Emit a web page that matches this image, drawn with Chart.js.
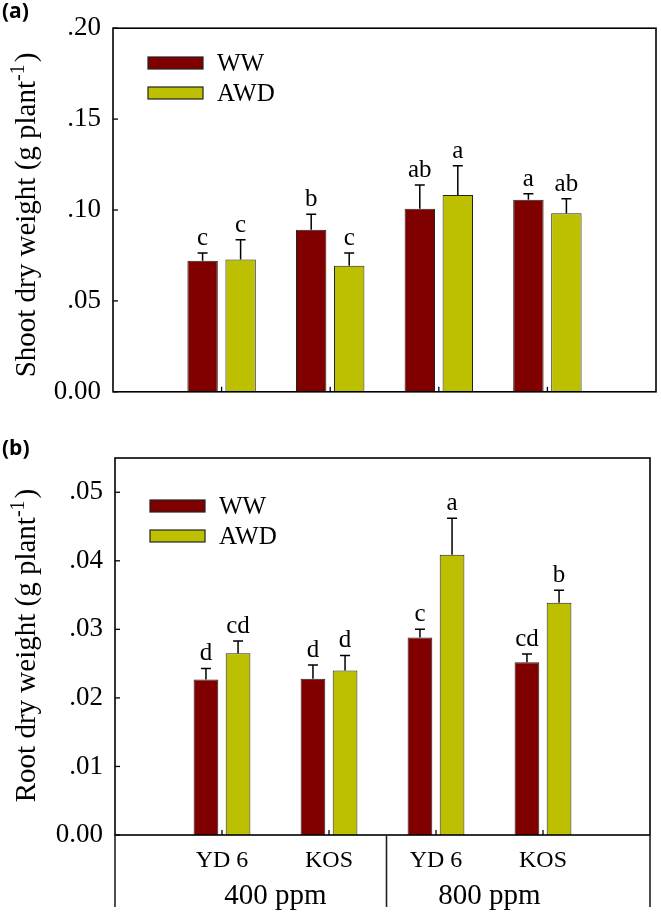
<!DOCTYPE html>
<html><head><meta charset="utf-8">
<script src="https://cdn.jsdelivr.net/npm/chart.js@4.4.1/dist/chart.umd.min.js"></script>
<style>html,body{margin:0;padding:0;background:#fff;width:661px;height:913px;overflow:hidden;} canvas{position:absolute;left:0;}</style>
</head><body>
<canvas id="c1" style="top:0;"></canvas>
<canvas id="c2" style="top:420px;"></canvas>
<script>
// ---------- data ----------
const cultivars = ['YD 6', 'KOS', 'YD 6', 'KOS'];
const co2Groups = ['400 ppm', '800 ppm'];
const seriesNames = ['WW', 'AWD'];
const seriesColors = ['#800000', '#bcc000'];

const shootWW = [0.0721, 0.0891, 0.1007, 0.1056];
const shootAWD = [0.0728, 0.0693, 0.1083, 0.0982];
const shootWWErr = [0.0042, 0.0085, 0.0130, 0.0034];
const shootAWDErr = [0.0108, 0.0070, 0.0160, 0.0080];
const shootWWLetters = ['c', 'b', 'ab', 'a'];
const shootAWDLetters = ['c', 'c', 'a', 'ab'];
const shootTickLabels = ['0.00', '.05', '.10', '.15', '.20'];

const rootWW = [0.0227, 0.0228, 0.0288, 0.0252];
const rootAWD = [0.0265, 0.0240, 0.0409, 0.0339];
const rootWWErr = [0.0016, 0.0020, 0.0012, 0.0012];
const rootAWDErr = [0.0018, 0.0022, 0.0053, 0.0018];
const rootWWLetters = ['d', 'd', 'c', 'cd'];
const rootAWDLetters = ['cd', 'd', 'a', 'b'];
const rootTickLabels = ['0.00', '.01', '.02', '.03', '.04', '.05'];

const SERIF = '"Liberation Serif", "Times New Roman", serif';
const pad = arr => [null, ...arr, null];

function makePanel(id, o) {
  const cv = document.getElementById(id);
  cv.width = 661; cv.height = o.h;
  cv.style.width = '661px'; cv.style.height = o.h + 'px';
  const errors = [o.errWW, o.errAWD];
  const letters = [o.letWW, o.letAWD];
  const plugin = {
    id: 'panel_' + id,
    afterDatasetsDraw(chart) {
      const ctx = chart.ctx, y = chart.scales.y;
      ctx.save();
      ctx.strokeStyle = '#000'; ctx.fillStyle = '#000'; ctx.lineWidth = 1.5;
      ctx.font = o.letterFont + 'px ' + SERIF;
      ctx.textAlign = 'center'; ctx.textBaseline = 'alphabetic';
      chart.data.datasets.forEach((ds, di) => {
        chart.getDatasetMeta(di).data.forEach((bar, i) => {
          const v = ds.data[i];
          if (v == null) return;
          const k = i - 1;
          const top = y.getPixelForValue(v + errors[di][k]);
          ctx.beginPath();
          ctx.moveTo(bar.x, bar.y); ctx.lineTo(bar.x, top);
          ctx.moveTo(bar.x - 5, top); ctx.lineTo(bar.x + 5, top);
          ctx.stroke();
          ctx.fillText(letters[di][k], bar.x, top - 8);
        });
      });
      ctx.restore();
    },
    afterDraw(chart) {
      const ctx = chart.ctx, a = chart.chartArea, x = chart.scales.x, y = chart.scales.y;
      ctx.save();
      ctx.strokeStyle = '#000'; ctx.fillStyle = '#000'; ctx.lineWidth = 1.6;
      // frame
      ctx.strokeRect(a.left, a.top, a.right - a.left, a.bottom - a.top);
      // inward y ticks
      ctx.lineWidth = 1.3;
      y.ticks.forEach((t, i) => {
        if (i >= o.tickLabels.length) return;
        const py = y.getPixelForValue(t.value);
        ctx.beginPath(); ctx.moveTo(a.left, py); ctx.lineTo(a.left + 5, py); ctx.stroke();
      });
      // inward x ticks at categories
      for (let i = 1; i <= cultivars.length; i++) {
        const px = x.getPixelForValue(i);
        ctx.beginPath(); ctx.moveTo(px, a.bottom); ctx.lineTo(px, a.bottom - 5); ctx.stroke();
      }
      // legend
      ctx.lineWidth = 1.2;
      seriesNames.forEach((n, i) => {
        const ly = o.legendTop + i * 30;
        ctx.fillStyle = seriesColors[i];
        ctx.fillRect(o.legendLeft, ly, 55, 12);
        ctx.strokeStyle = '#222';
        ctx.strokeRect(o.legendLeft, ly, 55, 12);
        ctx.fillStyle = '#000';
        ctx.font = '25px ' + SERIF;
        ctx.textAlign = 'left'; ctx.textBaseline = 'middle';
        ctx.fillText(n, o.legendLeft + 69, ly + 7);
      });
      // y title with superscript
      ctx.save();
      const cy = (a.top + a.bottom) / 2 + o.titleShift;
      ctx.translate(35, cy);
      ctx.rotate(-Math.PI / 2);
      ctx.textAlign = 'left'; ctx.textBaseline = 'alphabetic';
      const big = '29px ' + SERIF, small = '20px ' + SERIF;
      const p1 = o.title + ' (g plant', p2 = '-1', p3 = ')';
      ctx.font = big; const w1 = ctx.measureText(p1).width, w3 = ctx.measureText(p3).width;
      ctx.font = small; const w2 = ctx.measureText(p2).width;
      let sx = -(w1 + w2 + w3) / 2;
      ctx.font = big; ctx.fillText(p1, sx, 0);
      ctx.font = small; ctx.fillText(p2, sx + w1, -11);
      ctx.font = big; ctx.fillText(p3, sx + w1 + w2 + 2, 0);
      ctx.restore();
      // panel label
      ctx.font = 'bold 21px "Open Sans", "Liberation Sans", Arial, sans-serif';
      ctx.textAlign = 'left'; ctx.textBaseline = 'alphabetic';
      ctx.fillText(o.panelLabel, 2, o.panelLabelY);
      // bottom grouping
      if (o.groups) {
        const H = chart.height;
        ctx.lineWidth = 1.6;
        const mid = (x.getPixelForValue(2) + x.getPixelForValue(3)) / 2 + 4;
        [a.left, mid, a.right].forEach(px => {
          ctx.beginPath(); ctx.moveTo(px, a.bottom); ctx.lineTo(px, H - 6); ctx.stroke();
        });
        ctx.font = '29px ' + SERIF; ctx.textAlign = 'center'; ctx.textBaseline = 'alphabetic';
        co2Groups.forEach((g, gi) => {
          const cx = (x.getPixelForValue(1 + gi * 2) + x.getPixelForValue(2 + gi * 2)) / 2;
          ctx.fillText(g, cx, H - 9);
        });
      }
      ctx.restore();
    }
  };
  return new Chart(cv, {
    type: 'bar',
    data: {
      labels: ['', ...cultivars, ''],
      datasets: [
        { label: seriesNames[0], data: pad(o.ww), backgroundColor: seriesColors[0], borderColor: '#222', borderWidth: 1 },
        { label: seriesNames[1], data: pad(o.awd), backgroundColor: seriesColors[1], borderColor: '#222', borderWidth: 1 }
      ]
    },
    options: {
      responsive: false, animation: false, devicePixelRatio: 1,
      categoryPercentage: o.catPct, barPercentage: o.barPct,
      layout: { padding: { top: o.padTop, right: o.padRight, left: 0, bottom: 0 } },
      plugins: { legend: { display: false }, tooltip: { enabled: false } },
      scales: {
        x: {
          offset: false,
          grid: { display: false, drawTicks: false },
          border: { display: false },
          ticks: { display: o.showX, color: '#000', font: { family: SERIF, size: 24 }, padding: o.xPad, autoSkip: false, maxRotation: 0 },
          afterFit: s => { s.height = o.xHeight; }
        },
        y: {
          min: 0, max: o.max,
          grid: { display: false, drawTicks: false },
          border: { display: false },
          ticks: { stepSize: o.step, color: '#000', font: { family: SERIF, size: 27 }, padding: 12,
                   callback: (v, i) => o.tickLabels[i] ?? '' },
          afterFit: s => { s.width = o.yWidth; }
        }
      }
    },
    plugins: [plugin]
  });
}

makePanel('c1', {
  h: 420, ww: shootWW, awd: shootAWD, errWW: shootWWErr, errAWD: shootAWDErr,
  letWW: shootWWLetters, letAWD: shootAWDLetters, tickLabels: shootTickLabels,
  max: 0.20, step: 0.05, catPct: 0.70, barPct: 0.80, padTop: 14, padRight: 5,
  yWidth: 113, xHeight: 28, showX: false, xPad: 0, letterFont: 25,
  legendLeft: 148, legendTop: 57, title: 'Shoot dry weight', titleShift: 6,
  panelLabel: '(a)', panelLabelY: 18, groups: false
});
makePanel('c2', {
  h: 493, ww: rootWW, awd: rootAWD, errWW: rootWWErr, errAWD: rootAWDErr,
  letWW: rootWWLetters, letAWD: rootAWDLetters, tickLabels: rootTickLabels,
  max: 0.055, step: 0.01, catPct: 0.60, barPct: 0.77, padTop: 38, padRight: 4,
  yWidth: 115, xHeight: 78, showX: true, xPad: 11, letterFont: 25,
  legendLeft: 150, legendTop: 80, title: 'Root dry weight', titleShift: 0,
  panelLabel: '(b)', panelLabelY: 35, groups: true
});
</script>
</body></html>
